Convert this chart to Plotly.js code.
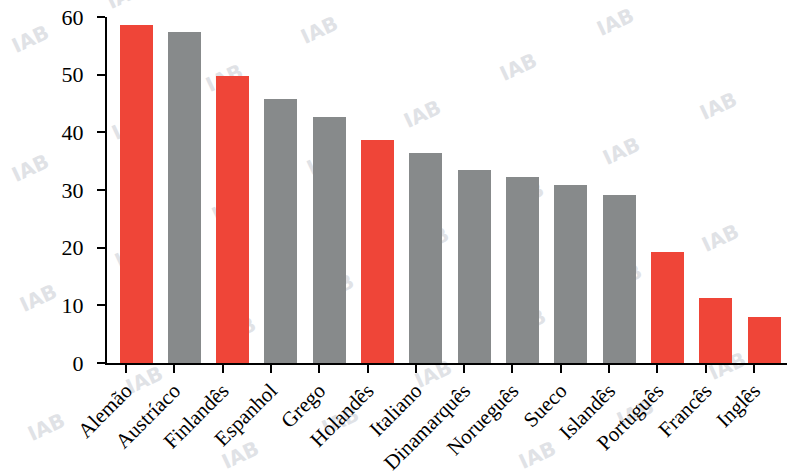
<!DOCTYPE html>
<html>
<head>
<meta charset="utf-8">
<script src="https://cdn.plot.ly/plotly-3.0.1.min.js"></script>
<style>
html,body{margin:0;padding:0;background:#fff;}
#chart{width:787px;height:475px;}
</style>
</head>
<body>
<div id="chart"></div>
<script>
// Data
const languages = ["Alemão","Austríaco","Finlandês","Espanhol","Grego","Holandês","Italiano","Dinamarquês","Norueguês","Sueco","Islandês","Português","Francês","Inglês"];
const values = [58.7, 57.4, 49.8, 45.8, 42.7, 38.7, 36.5, 33.4, 32.2, 30.8, 29.2, 19.2, 11.2, 8.0];
const highlighted = [true, false, true, false, false, true, false, false, false, false, false, true, true, true];
const yTicks = [0, 10, 20, 30, 40, 50, 60];

const RED = "#EF4538";
const GRAY = "#878A8B";

// Watermark centres in page pixels (decoration)
const watermarkPx = [
  [30,38],[319,29],[615,21],[125,-6],
  [224,77],[518,66],[718,105],[422,113],
  [130,125],[325,160],[621,150],
  [30,167],[230,207],[525,195],
  [720,237],[430,240],[133,253],
  [38,297],[335,287],[623,277],
  [237,330],[527,322],
  [727,365],[433,373],[144,379],
  [46,426],[340,420],[635,412],
  [240,454],[537,454]
];

const M = {l:107, r:0, t:17, b:112};
const W = 787, H = 475;
const pw = W - M.l - M.r, ph = H - M.t - M.b;

const shapes = watermarkPx.map(([px,py]) => {
  const xc = (px - M.l) / pw, yc = (H - M.b - py) / ph;
  const dx = 30 / pw, dy = 15 / ph;
  return {
    type: "rect", xref: "paper", yref: "paper", layer: "below",
    x0: xc - dx, x1: xc + dx, y0: yc - dy, y1: yc + dy,
    line: {width: 0}, fillcolor: "rgba(0,0,0,0)",
    label: {text: "IAB", textangle: -25, textposition: "middle center",
            font: {family: "DejaVu Sans, Liberation Sans, sans-serif", size: 20, weight: "bold", color: "#E0E2E6"}}
  };
});

const trace = {
  type: "bar",
  x: languages,
  y: values,
  marker: {color: highlighted.map(h => h ? RED : GRAY), line: {width: 0}},
  width: 0.683,
  offset: -0.134,
  hoverinfo: "x+y"
};

const layout = {
  width: W, height: H,
  margin: M,
  paper_bgcolor: "#ffffff",
  plot_bgcolor: "rgba(0,0,0,0)",
  showlegend: false,
  font: {family: "Liberation Serif, Times New Roman, serif", color: "#000"},
  xaxis: {
    type: "category",
    range: [-0.393, 13.683],
    showline: true, linecolor: "#000", linewidth: 2,
    ticks: "outside", ticklen: 8, tickwidth: 2, tickcolor: "#000",
    tickangle: -45,
    ticklabelstandoff: -3,
    tickfont: {size: 21, color: "#000", family: "Liberation Serif, Times New Roman, serif"},
    showgrid: false, zeroline: false, fixedrange: true
  },
  yaxis: {
    range: [0, 60],
    tickmode: "array", tickvals: yTicks, ticktext: yTicks.map(String),
    showline: true, linecolor: "#000", linewidth: 2,
    ticks: "outside", ticklen: 8, tickwidth: 2, tickcolor: "#000",
    tickfont: {size: 22, color: "#000", family: "Liberation Serif, Times New Roman, serif"},
    ticklabelstandoff: 9,
    showgrid: false, zeroline: false, fixedrange: true
  },
  shapes: shapes,
  bargap: 0
};

Plotly.newPlot("chart", [trace], layout, {displayModeBar: false, staticPlot: true});
</script>
</body>
</html>
